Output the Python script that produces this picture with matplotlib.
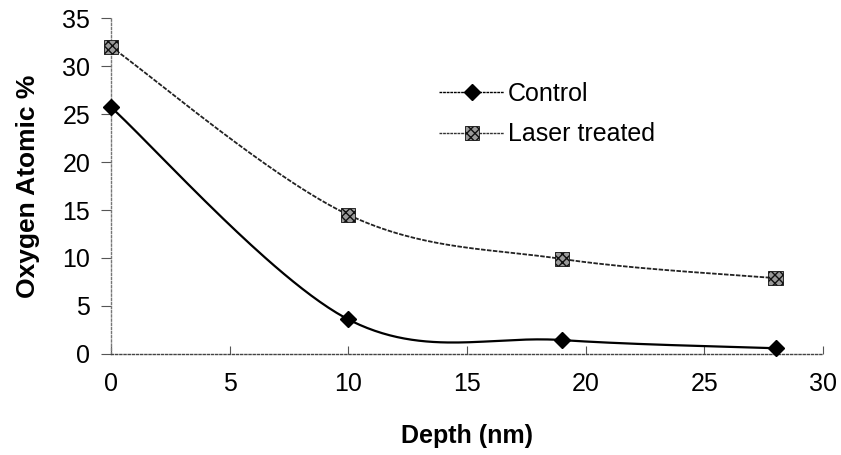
import numpy as np
import matplotlib
matplotlib.use("Agg")
import matplotlib.pyplot as plt
from matplotlib.legend_handler import HandlerBase
from matplotlib.lines import Line2D
from matplotlib.patches import Rectangle

plt.rcParams['font.family'] = ['Liberation Sans', 'DejaVu Sans']

depth = [0, 10, 19, 28]
control = [25.7, 3.6, 1.45, 0.6]
laser = [32.0, 14.5, 9.9, 7.9]
xticks = [0, 5, 10, 15, 20, 25, 30]
yticks = [0, 5, 10, 15, 20, 25, 30, 35]

LASER_LINE = dict(color='#222222', lw=1.3, ls=(0, (2.5, 0.8)))
HATCH_MK = dict(facecolor='#9a9a9a', edgecolor='#111111', hatch='xxxx', linewidth=0.6)


def smooth(x, y, n=60):
    """Spreadsheet-style smoothed line: cubic Bezier segments through the points."""
    p = np.column_stack([x, y]).astype(float)
    ext = np.vstack([p[0], p, p[-1]])
    out = []
    for i in range(len(p) - 1):
        p0, p3 = p[i], p[i + 1]
        c1 = p0 + (ext[i + 2] - ext[i]) / 6.0
        c2 = p3 - (ext[i + 3] - ext[i + 1]) / 6.0
        t = np.linspace(0, 1, n)[:, None]
        seg = ((1 - t) ** 3) * p0 + 3 * ((1 - t) ** 2) * t * c1 + 3 * (1 - t) * t ** 2 * c2 + t ** 3 * p3
        out.append(seg if i == 0 else seg[1:])
    s = np.vstack(out)
    return s[:, 0], s[:, 1]


class LineHatchSquare(HandlerBase):
    """Legend key: dotted line with a hatched square in the middle."""
    def create_artists(self, legend, orig_handle, xdescent, ydescent,
                       width, height, fontsize, trans):
        y = height / 2 - ydescent
        x0 = -xdescent
        line = Line2D([x0, x0 + width], [y, y], color='#333333', lw=1.0, ls=(0, (2, 0.6)))
        line.set_transform(trans)
        side = 10.0
        cx = x0 + width / 2
        sq = Rectangle((cx - side / 2, y - side / 2), side, side, **HATCH_MK)
        sq.set_transform(trans)
        return [line, sq]


fig = plt.figure(figsize=(8.41, 4.55), dpi=100)
ax = fig.add_axes([0.132, 0.222, 0.8466, 0.7384])

# Control: smoothed solid line with diamond markers
cx, cy = smooth(depth, control)
ax.plot(cx, cy, color='black', lw=1.6, zorder=2)
ax.plot(depth, control, linestyle='none', marker='D', ms=8.5, color='black',
        zorder=3, clip_on=False)
h_ctrl = Line2D([], [], color='black', lw=1.0, ls=(0, (2, 0.6)), marker='D', ms=8.5)

# Laser treated: smoothed dotted line with hatched square markers
lx, ly = smooth(depth, laser)
ax.plot(lx, ly, zorder=2, **LASER_LINE)
ax.scatter(depth, laser, marker='s', s=105, facecolor=HATCH_MK['facecolor'],
           edgecolor=HATCH_MK['edgecolor'], hatch=HATCH_MK['hatch'],
           linewidths=0.6, zorder=3, clip_on=False)
h_las = Line2D([], [])

ax.set_xlim(0, 30)
ax.set_ylim(0, 35)
ax.set_xticks(xticks)
ax.set_yticks(yticks)

for side in ('top', 'right'):
    ax.spines[side].set_visible(False)
ax.spines['left'].set_linestyle((0, (1.5, 1.5)))
ax.spines['left'].set_color('#777777')
ax.spines['bottom'].set_linestyle((0, (1.5, 1.5)))
ax.spines['bottom'].set_color('#444444')
for s in ax.spines.values():
    s.set_linewidth(1.0)

ax.tick_params(axis='x', direction='in', length=6, width=0.8, color='#555555',
               labelsize=18, pad=13)
ax.tick_params(axis='y', direction='out', length=7, width=0.8, color='#555555',
               labelsize=18, pad=8)

ax.set_xlabel('Depth (nm)', fontsize=18, fontweight='bold', labelpad=20)
ax.set_ylabel('Oxygen Atomic %', fontsize=19, fontweight='bold', labelpad=16)

ax.legend([h_ctrl, h_las], ['Control', 'Laser treated'],
          handler_map={h_las: LineHatchSquare()},
          loc='upper left', bbox_to_anchor=(0.447, 0.839), frameon=False,
          fontsize=18, handlelength=2.6, handletextpad=0.15, labelspacing=0.65,
          numpoints=1, borderaxespad=0)

# Title sits mostly above the canvas edge
fig.text(0.468, 1.02, 'Oxygen depth (XPS)', ha='center', va='baseline',
         fontsize=13, fontweight='bold')

fig.savefig('out.png', dpi=100)
